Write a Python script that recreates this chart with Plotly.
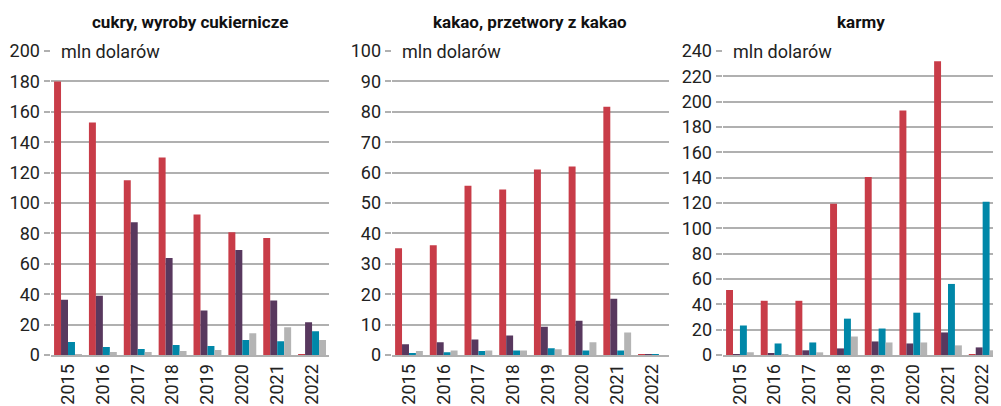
import plotly.graph_objects as go
from plotly.subplots import make_subplots

years = ["2015", "2016", "2017", "2018", "2019", "2020", "2021", "2022"]
titles = ["cukry, wyroby cukiernicze", "kakao, przetwory z kakao", "karmy"]
colors = ["#c83c48", "#58385e", "#0087a8", "#b4b4b4"]

# panel 1: cukry
cukry_a = [180, 153, 115, 130, 92.5, 80.8, 76.9, 0.3]
cukry_b = [36.3, 39, 87.3, 63.8, 29.3, 69, 35.8, 21.5]
cukry_c = [8.5, 5.2, 3.9, 6.5, 5.9, 9.8, 9.1, 15.6]
cukry_d = [0.3, 2, 2, 2.6, 3.3, 14.3, 18.2, 9.8]

# panel 2: kakao
kakao_a = [35.1, 36.1, 55.7, 54.4, 61, 62, 81.7, 0.15]
kakao_b = [3.5, 4.2, 5.1, 6.4, 9.3, 11.3, 18.5, 0.2]
kakao_c = [0.6, 0.9, 1.3, 1.5, 2.2, 1.5, 1.5, 0.2]
kakao_d = [1.3, 1.5, 1.5, 1.5, 1.9, 4.2, 7.4, 0]

# panel 3: karmy
karmy_a = [51.4, 42.8, 42.8, 119.5, 140.6, 193, 232, 0.4]
karmy_b = [0.6, 1.3, 3.7, 5.2, 10.7, 9.1, 17.8, 6]
karmy_c = [23.2, 9.1, 9.9, 28.7, 20.9, 33.4, 56.1, 121]
karmy_d = [2.1, 0.3, 2.1, 14.6, 9.9, 9.9, 7.6, 3.7]

panels = [
    ([cukry_a, cukry_b, cukry_c, cukry_d], 200, 20),
    ([kakao_a, kakao_b, kakao_c, kakao_d], 100, 10),
    ([karmy_a, karmy_b, karmy_c, karmy_d], 240, 20),
]

fig = make_subplots(rows=1, cols=3)
domains = [[0.0006, 0.2942], [0.3596, 0.6519], [0.708, 1.0]]

for i, (series, ymax, step) in enumerate(panels):
    col = i + 1
    for s, c in zip(series, colors):
        fig.add_trace(go.Bar(x=years, y=s, marker_color=c, marker_line_width=0,
                             showlegend=False), row=1, col=col)
    xa = "xaxis" if i == 0 else f"xaxis{col}"
    ya = "yaxis" if i == 0 else f"yaxis{col}"
    fig.layout[xa].update(domain=domains[i], tickangle=-90, showgrid=False,
                          showline=True, linecolor="#b0b0b0", linewidth=2,
                          tickfont=dict(size=18, color="#222"), ticks="")
    fig.layout[ya].update(range=[0, ymax], dtick=step, showgrid=True,
                          gridcolor="#b0b0b0", gridwidth=2, zeroline=False,
                          ticks="outside", ticklen=6, tickcolor="#b0b0b0", tickwidth=2,
                          tickfont=dict(size=18, color="#222"))
    xref = "x domain" if i == 0 else f"x{col} domain"
    yref = "y domain" if i == 0 else f"y{col} domain"
    # panel title
    fig.add_annotation(x=0.5, y=1, xref=xref, yref="paper", yshift=17,
                       text="<b>" + titles[i] + "</b>", showarrow=False,
                       font=dict(size=17, color="#111"), yanchor="bottom")
    # unit label sitting on the top gridline
    fig.add_annotation(x=0.005, y=1, xref=xref, yref=yref, xanchor="left",
                       text="mln dolarów", showarrow=False, bgcolor="white",
                       borderpad=8, font=dict(size=18, color="#222"),
                       yanchor="middle")

# page body has an 8px margin, so the figure is drawn 8px smaller
fig.update_layout(
    width=993, height=398,
    margin=dict(l=42, r=1, t=43, b=48),
    barmode="group", bargap=0.2, bargroupgap=0,
    plot_bgcolor="white", paper_bgcolor="white",
    font=dict(family="Roboto"),
)

fig.write_html("out.html")
